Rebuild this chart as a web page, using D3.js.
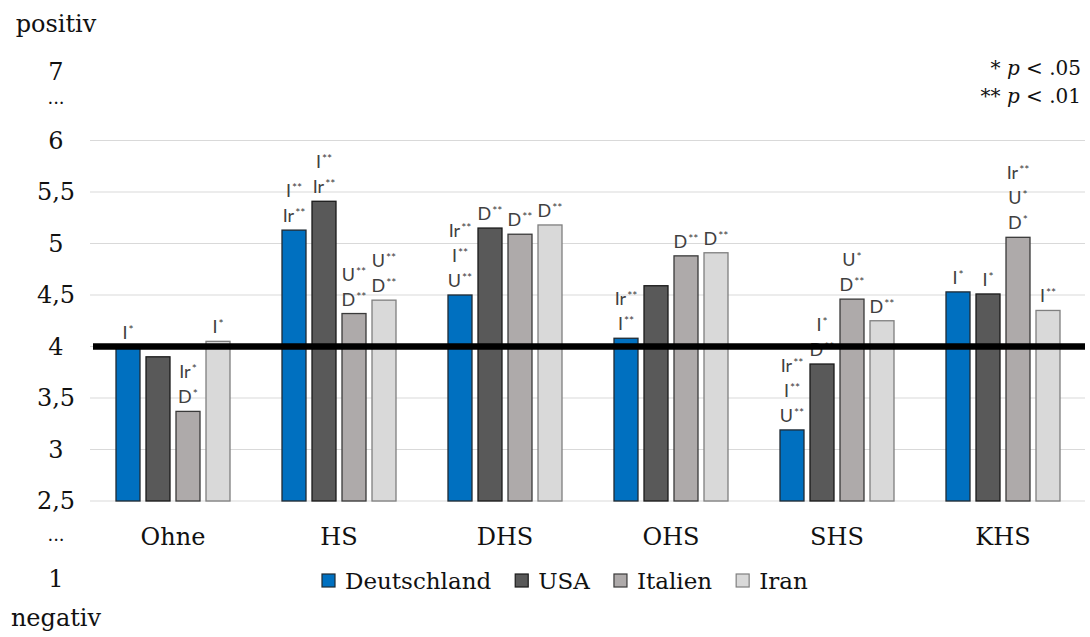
<!DOCTYPE html>
<html lang="de">
<head>
<meta charset="utf-8">
<script src="https://cdn.jsdelivr.net/npm/d3@7"></script>
<style>
  html, body { margin: 0; padding: 0; background: #fff; }
  svg { display: block; }
</style>
</head>
<body>
<svg id="chart" width="1090" height="637"></svg>
<script>
// Kategorien und Länder
const categories = ["Ohne", "HS", "DHS", "OHS", "SHS", "KHS"];
const series = ["Deutschland", "USA", "Italien", "Iran"];

// Mittelwerte je Land und Kategorie
const deutschland = [4.00, 5.13, 4.50, 4.08, 3.19, 4.53];
const usa         = [3.90, 5.41, 5.15, 4.59, 3.83, 4.51];
const italien     = [3.37, 4.32, 5.09, 4.88, 4.46, 5.06];
const iran        = [4.05, 4.45, 5.18, 4.91, 4.25, 4.35];

// Signifikanzhinweise über den Balken (von oben nach unten)
const sigDeutschland = [["I*"], ["I**", "Ir**"], ["Ir**", "I**", "U**"], ["Ir**", "I**"], ["Ir**", "I**", "U**"], ["I*"]];
const sigUsa         = [[], ["I**", "Ir**"], ["D**"], [], ["I*", "D**"], ["I*"]];
const sigItalien     = [["Ir*", "D*"], ["U**", "D**"], ["D**"], ["D**"], ["U*", "D**"], ["Ir**", "U*", "D*"]];
const sigIran        = [["I*"], ["U**", "D**"], ["D**"], ["D**"], ["D**"], ["I**"]];

// Achsenbeschriftung
const yTicks = [6, 5.5, 5, 4.5, 4, 3.5, 3, 2.5];
const scaleTop = ["positiv", "7", "..."];
const scaleBottom = ["...", "1", "negativ"];
const neutralValue = 4;

const colors = ["#0070C0", "#595959", "#AEAAAA", "#D9D9D9"];
const strokes = ["#1f2a33", "#1a1a1a", "#3a3a3a", "#7f7f7f"];

const values = [deutschland, usa, italien, iran];
const sigs = [sigDeutschland, sigUsa, sigItalien, sigIran];

const svg = d3.select("#chart");
const serif = "'DejaVu Serif', serif";
const sans = "Lato, 'Open Sans', sans-serif";

const x0 = d3.scaleBand().domain(categories).range([89, 1085]).padding(0);
const x1 = d3.scaleBand().domain(series)
  .range([27, x0.bandwidth() - 25]).paddingInner(0.2).paddingOuter(0);
const y = d3.scaleLinear().domain([2.5, 6]).range([501, 140.5]);

const de = d3.formatLocale({ decimal: ",", thousands: ".", grouping: [3], currency: ["", "€"] });
const fmt = de.format("~g");

// Gitterlinien
svg.append("g").selectAll("line").data(yTicks).join("line")
  .attr("x1", 90).attr("x2", 1085)
  .attr("y1", d => y(d)).attr("y2", d => y(d))
  .attr("stroke", "#d9d9d9").attr("stroke-width", 1);

// Y-Beschriftung
const labelX = 56;
svg.append("g").selectAll("text").data(yTicks).join("text")
  .attr("x", labelX).attr("y", d => y(d)).attr("dy", "0.35em")
  .attr("text-anchor", "middle")
  .attr("font-family", serif).attr("font-size", 24).attr("fill", "#111")
  .text(d => fmt(d));

const topY = [32, 80, 104];
const bottomY = [541, 587, 626];
function scaleText(g, data, ys) {
  g.selectAll("text").data(data).join("text")
    .attr("x", labelX).attr("y", (d, i) => ys[i])
    .attr("text-anchor", "middle")
    .attr("font-family", serif)
    .attr("font-size", d => d === "..." ? 18 : 24)
    .attr("fill", "#111")
    .text(d => d);
}
scaleText(svg.append("g"), scaleTop, topY);
scaleText(svg.append("g"), scaleBottom, bottomY);

// Kategorien
svg.append("g").selectAll("text").data(categories).join("text")
  .attr("x", d => x0(d) + x0.bandwidth() / 2 + 1).attr("y", 545)
  .attr("text-anchor", "middle")
  .attr("font-family", serif).attr("font-size", 24).attr("fill", "#111")
  .text(d => d);

// Balken
const rows = [];
categories.forEach((c, ci) => {
  series.forEach((s, si) => {
    rows.push({ c, s, si, v: values[si][ci], sig: sigs[si][ci] });
  });
});

svg.append("g").selectAll("rect").data(rows).join("rect")
  .attr("x", d => x0(d.c) + x1(d.s))
  .attr("width", x1.bandwidth())
  .attr("y", d => y(d.v))
  .attr("height", d => y(2.5) - y(d.v))
  .attr("fill", d => colors[d.si])
  .attr("stroke", d => strokes[d.si])
  .attr("stroke-width", 1.3);

// Signifikanzlabels
const lineStep = 25;
const gap = 8;
const lab = svg.append("g");
rows.forEach(d => {
  const n = d.sig.length;
  d.sig.forEach((s, k) => {
    const m = s.match(/^([^*]+)(\**)$/);
    const t = lab.append("text")
      .attr("x", x0(d.c) + x1(d.s) + x1.bandwidth() / 2)
      .attr("y", y(d.v) - gap - (n - 1 - k) * lineStep)
      .attr("text-anchor", "middle")
      .attr("font-family", sans).attr("font-size", 18).attr("fill", "#404040");
    t.append("tspan").text(m[1]);
    t.append("tspan").attr("dy", -5).attr("font-size", 12).attr("dx", 1).text(m[2]);
  });
});

// Neutrale Linie bei 4
svg.append("line")
  .attr("x1", 93).attr("x2", 1085)
  .attr("y1", y(neutralValue)).attr("y2", y(neutralValue))
  .attr("stroke", "#000").attr("stroke-width", 6.5);

// Legende
const legend = svg.append("g");
let lx = 322;
series.forEach((s, i) => {
  legend.append("rect")
    .attr("x", lx).attr("y", 574).attr("width", 13).attr("height", 13)
    .attr("fill", colors[i]).attr("stroke", strokes[i]).attr("stroke-width", 1.2);
  const t = legend.append("text")
    .attr("x", lx + 23).attr("y", 589)
    .attr("font-family", serif).attr("font-size", 23).attr("fill", "#111")
    .text(s);
  lx += 23 + t.node().getComputedTextLength() + 24;
});

// Signifikanzniveaus
const notes = [["* ", ".05"], ["** ", ".01"]];
const noteY = [75, 103];
notes.forEach((n, i) => {
  const t = svg.append("text")
    .attr("x", 1081).attr("y", noteY[i])
    .attr("text-anchor", "end")
    .attr("font-family", serif).attr("font-size", 20).attr("fill", "#111");
  t.append("tspan").text(n[0]);
  t.append("tspan").attr("font-style", "italic").text("p");
  t.append("tspan").text(" < " + n[1]);
});
</script>
</body>
</html>
